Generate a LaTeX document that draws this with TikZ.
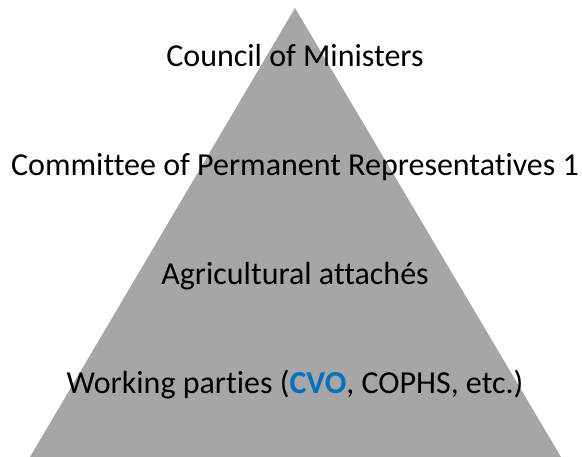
\documentclass[tikz,border=0pt]{standalone}
\usepackage{fontspec}
\setmainfont[Ligatures=CommonOff]{Carlito}
\usepackage{tikz}
\usetikzlibrary{positioning}
\definecolor{pyramidgray}{HTML}{A6A6A6}
\definecolor{cvoblue}{HTML}{0070C0}
\tikzstyle{level} = [inner sep=0pt, text height=23pt, text depth=7pt, font=\fontsize{32}{38}\selectfont, text=black]
\tikzstyle{pyramid} = [fill=pyramidgray, draw=none]

\begin{document}
\begin{tikzpicture}[x=1pt, y=1pt, node distance=109pt]
        \useasboundingbox (0,0) rectangle (582,457);
        \coordinate (top) at (295,449);
        \coordinate (left) at (30,0);
        \coordinate (right) at (561,0);
        \fill [pyramid] (top) -- (left) -- (right) -- cycle;

        \node (council) [level, anchor=base] at (295,390) {Council of Ministers};
        \node (coreper) [level, below of=council] {Committee of Permanent Representatives 1};
        \node (attaches) [level, below of=coreper] {Agricultural attachés};
        \node (parties) [level, below of=attaches] {Working parties (\textbf{\color{cvoblue}CVO}, COPHS, etc.)};

\end{tikzpicture}
\end{document}
